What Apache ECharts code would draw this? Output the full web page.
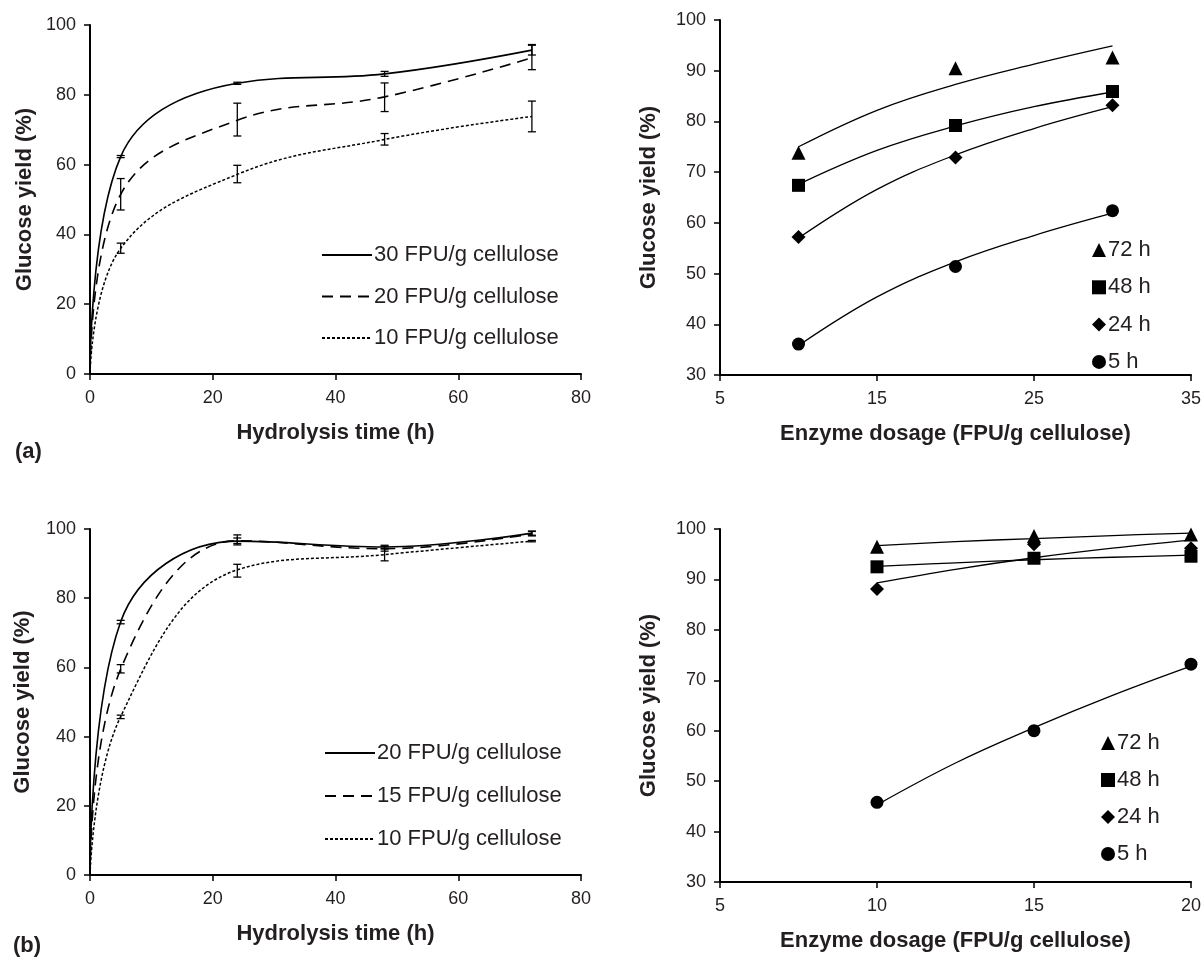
<!DOCTYPE html>
<html lang="en">
<head>
    <meta charset="UTF-8">
    <title>glucose yield</title>
    <script src="https://cdn.jsdelivr.net/npm/echarts@6/dist/echarts.min.js"></script>
    <style>
        html, body { margin: 0; padding: 0; background: #fff; }
        #main { width: 1204px; height: 957px; }
    </style>
</head>
<body>
<div id="main"></div>
<script>
    // hydrolysis time (h), left panels
    var timeH = [0, 5, 24, 48, 72];

    // (a) left: glucose yield (%) at 30/20/10 FPU
    var a30 = [0, 62.3, 83.3, 86.0, 92.8];
    var a20 = [0, 51.5, 72.7, 79.4, 90.6];
    var a10 = [0, 36.0, 57.2, 67.2, 73.8];
    // error bars [low, high]
    var a30Err = [null, [62.0, 62.6], [83.0, 83.6], [85.3, 86.7], [91.4, 94.4]];
    var a20Err = [null, [47.0, 56.0], [68.2, 77.6], [75.2, 83.4], [87.2, 94.2]];
    var a10Err = [null, [34.6, 37.5], [54.8, 59.8], [65.6, 68.9], [69.4, 78.2]];

    // (b) left: glucose yield (%) at 20/15/10 FPU
    var b20 = [0, 73.2, 96.5, 94.8, 98.8];
    var b15 = [0, 59.5, 96.6, 94.3, 98.6];
    var b10 = [0, 45.8, 88.2, 92.6, 96.5];
    var b20Err = [null, [72.6, 73.6], [95.8, 97.4], [94.2, 95.3], [98.2, 99.4]];
    var b15Err = [null, [58.4, 60.8], [95.4, 98.3], [93.6, 95.0], [98.0, 99.3]];
    var b10Err = [null, [45.2, 46.2], [86.1, 89.8], [90.8, 94.4], [96.3, 96.7]];

    // (a) right: yield vs enzyme dosage
    var doseA = [10, 20, 30];
    var ar72 = [73.8, 90.5, 92.6];
    var ar48 = [67.4, 79.2, 85.9];
    var ar24 = [57.2, 72.9, 83.2];
    var ar5 = [36.1, 51.4, 62.4];
    // trend lines
    var trendDoseA = [10, 15, 20, 25, 30];
    var ar72Trend = [75.0, 82.2, 87.3, 91.3, 94.9];
    var ar48Trend = [67.6, 74.3, 79.1, 82.9, 85.8];
    var ar24Trend = [57.0, 66.6, 73.4, 78.6, 82.9];
    var ar5Trend = [35.8, 45.4, 52.3, 57.5, 61.9];

    // (b) right
    var doseB = [10, 15, 20];
    var br72 = [96.5, 98.6, 98.9];
    var br48 = [92.5, 94.2, 94.6];
    var br24 = [88.1, 97.0, 96.2];
    var br5 = [45.8, 60.0, 73.2];
    var trendDoseB = [10, 12.5, 15, 17.5, 20];
    var br72Trend = [96.7, 97.5, 98.1, 98.7, 99.2];
    var br48Trend = [92.6, 93.3, 93.9, 94.4, 94.8];
    var br24Trend = [89.3, 92.0, 94.3, 96.2, 97.8];
    var br5Trend = [45.3, 53.6, 60.6, 67.0, 72.8];

    var legendNames = {
        a30: '30 FPU/g cellulose', a20: '20 FPU/g cellulose', a10: '10 FPU/g cellulose',
        b20: '20 FPU/g cellulose', b15: '15 FPU/g cellulose', b10: '10 FPU/g cellulose',
        ar72: '72 h', ar48: '48 h', ar24: '24 h', ar5: '5 h',
        br72: '72 h', br48: '48 h', br24: '24 h', br5: '5 h'
    };

    var FONT = '"Liberation Sans", Arial, sans-serif';
    var TXT = '#231f20';

    function pairs(xs, ys) {
        var out = [];
        for (var i = 0; i < xs.length; i++) out.push([xs[i], ys[i]]);
        return out;
    }

    function errData(xs, errs) {
        var out = [];
        for (var i = 0; i < xs.length; i++) {
            if (errs[i]) out.push([xs[i], errs[i][0], errs[i][1]]);
        }
        return out;
    }

    function errRender(params, api) {
        var x = api.value(0);
        var top = api.coord([x, api.value(2)]);
        var bot = api.coord([x, api.value(1)]);
        var w = 4;
        var st = { stroke: '#000', lineWidth: 1.3 };
        return {
            type: 'group',
            children: [
                { type: 'line', shape: { x1: top[0], y1: top[1], x2: bot[0], y2: bot[1] }, style: st },
                { type: 'line', shape: { x1: top[0] - w, y1: top[1], x2: top[0] + w, y2: top[1] }, style: st },
                { type: 'line', shape: { x1: bot[0] - w, y1: bot[1], x2: bot[0] + w, y2: bot[1] }, style: st }
            ]
        };
    }

    function axisCommon() {
        return {
            axisLine: { lineStyle: { color: '#000', width: 2 } },
            axisTick: { show: true, length: 6, lineStyle: { color: '#000', width: 1.5 } },
            axisLabel: { fontSize: 18, color: TXT, fontFamily: FONT },
            splitLine: { show: false },
            nameLocation: 'middle',
            nameTextStyle: { fontSize: 22, fontWeight: 'bold', color: TXT, fontFamily: FONT }
        };
    }

    function xAxis(idx, min, max, interval, name) {
        var ax = axisCommon();
        ax.type = 'value';
        ax.gridIndex = idx;
        ax.min = min; ax.max = max; ax.interval = interval;
        ax.name = name;
        ax.nameGap = 48;
        ax.axisLabel.margin = 15;
        return ax;
    }

    function yAxis(idx, min, max, interval, gap) {
        var ax = axisCommon();
        ax.type = 'value';
        ax.gridIndex = idx;
        ax.min = min; ax.max = max; ax.interval = interval;
        ax.name = 'Glucose yield (%)';
        ax.nameGap = gap;
        ax.axisLabel.margin = 14;
        return ax;
    }

    function curve(name, idx, xs, ys, dash, width, sm) {
        return {
            name: name, type: 'line', xAxisIndex: idx, yAxisIndex: idx,
            data: pairs(xs, ys), smooth: sm, symbol: 'none',
            lineStyle: { color: '#000', width: width, type: dash },
            itemStyle: { color: '#000' }
        };
    }

    function errSeries(idx, xs, errs) {
        return {
            type: 'custom', xAxisIndex: idx, yAxisIndex: idx,
            data: errData(xs, errs), renderItem: errRender,
            encode: { x: 0, y: [1, 2] }, z: 5, silent: true
        };
    }

    function marks(name, idx, xs, ys, symbol, size) {
        return {
            name: name, type: 'scatter', xAxisIndex: idx, yAxisIndex: idx,
            data: pairs(xs, ys), symbol: symbol, symbolSize: size,
            itemStyle: { color: '#000', opacity: 1 }, z: 4
        };
    }

    function trend(idx, xs, ys) {
        return {
            type: 'line', xAxisIndex: idx, yAxisIndex: idx,
            data: pairs(xs, ys), smooth: 0.4, symbol: 'none', silent: true,
            lineStyle: { color: '#000', width: 1.3 }, z: 2
        };
    }

    function legend(names, left, top, gap, iconW, iconH, hideSymbol) {
        var lg = {
            orient: 'vertical', left: left, top: top, itemGap: gap, padding: 0,
            itemWidth: iconW, itemHeight: iconH,
            data: names,
            selectedMode: false,
            formatter: function (n) { return legendNames[n]; },
            textStyle: { fontSize: 22, color: TXT, fontFamily: FONT, lineHeight: 20, padding: [0, 0, 0, -3] }
        };
        if (hideSymbol) lg.itemStyle = { opacity: 0 };
        return lg;
    }

    var myChart = echarts.init(document.getElementById('main'));

    var option = {
        animation: false,
        backgroundColor: '#fff',
        title: [
            { text: '(a)', left: 10, top: 436, textStyle: { fontSize: 22, fontWeight: 'bold', color: TXT, fontFamily: FONT } },
            { text: '(b)', left: 8, top: 930, textStyle: { fontSize: 22, fontWeight: 'bold', color: TXT, fontFamily: FONT } }
        ],
        grid: [
            { left: 90, top: 25, width: 491, height: 349 },
            { left: 720, top: 20, width: 472, height: 355 },
            { left: 90, top: 529, width: 491, height: 346 },
            { left: 720, top: 529, width: 473, height: 353 }
        ],
        xAxis: [
            xAxis(0, 0, 80, 20, 'Hydrolysis time (h)'),
            xAxis(1, 5, 35, 10, 'Enzyme dosage (FPU/g cellulose)'),
            xAxis(2, 0, 80, 20, 'Hydrolysis time (h)'),
            xAxis(3, 5, 20, 5, 'Enzyme dosage (FPU/g cellulose)')
        ],
        yAxis: [
            yAxis(0, 0, 100, 20, 54),
            yAxis(1, 30, 100, 10, 60),
            yAxis(2, 0, 100, 20, 56),
            yAxis(3, 30, 100, 10, 60)
        ],
        legend: [
            legend(['a30', 'a20', 'a10'], 321, 244, 19.5, 50, 20, true),
            legend(['ar72', 'ar48', 'ar24', 'ar5'], 1092, 239, 15.3, 14, 14, false),
            legend(['b20', 'b15', 'b10'], 324, 742, 21, 50, 20, true),
            legend(['br72', 'br48', 'br24', 'br5'], 1101, 732, 15, 14, 14, false)
        ],
        series: [
            curve('a30', 0, timeH, a30, 'solid', 1.6, 0.4),
            curve('a20', 0, timeH, a20, [11, 7], 1.6, 0.4),
            curve('a10', 0, timeH, a10, [3, 2], 1.5, 0.4),
            errSeries(0, timeH, a30Err),
            errSeries(0, timeH, a20Err),
            errSeries(0, timeH, a10Err),

            trend(1, trendDoseA, ar72Trend),
            trend(1, trendDoseA, ar48Trend),
            trend(1, trendDoseA, ar24Trend),
            trend(1, trendDoseA, ar5Trend),
            marks('ar72', 1, doseA, ar72, 'triangle', 14),
            marks('ar48', 1, doseA, ar48, 'rect', 13),
            marks('ar24', 1, doseA, ar24, 'diamond', 14),
            marks('ar5', 1, doseA, ar5, 'circle', 13),

            curve('b20', 2, timeH, b20, 'solid', 1.6, 0.4),
            curve('b15', 2, timeH, b15, [11, 7], 1.6, 0.4),
            curve('b10', 2, timeH, b10, [3, 2], 1.5, 0.4),
            errSeries(2, timeH, b20Err),
            errSeries(2, timeH, b15Err),
            errSeries(2, timeH, b10Err),

            trend(3, trendDoseB, br72Trend),
            trend(3, trendDoseB, br48Trend),
            trend(3, trendDoseB, br24Trend),
            trend(3, trendDoseB, br5Trend),
            marks('br72', 3, doseB, br72, 'triangle', 14),
            marks('br48', 3, doseB, br48, 'rect', 13),
            marks('br24', 3, doseB, br24, 'diamond', 14),
            marks('br5', 3, doseB, br5, 'circle', 13)
        ]
    };

    myChart.setOption(option);
</script>
</body>
</html>
